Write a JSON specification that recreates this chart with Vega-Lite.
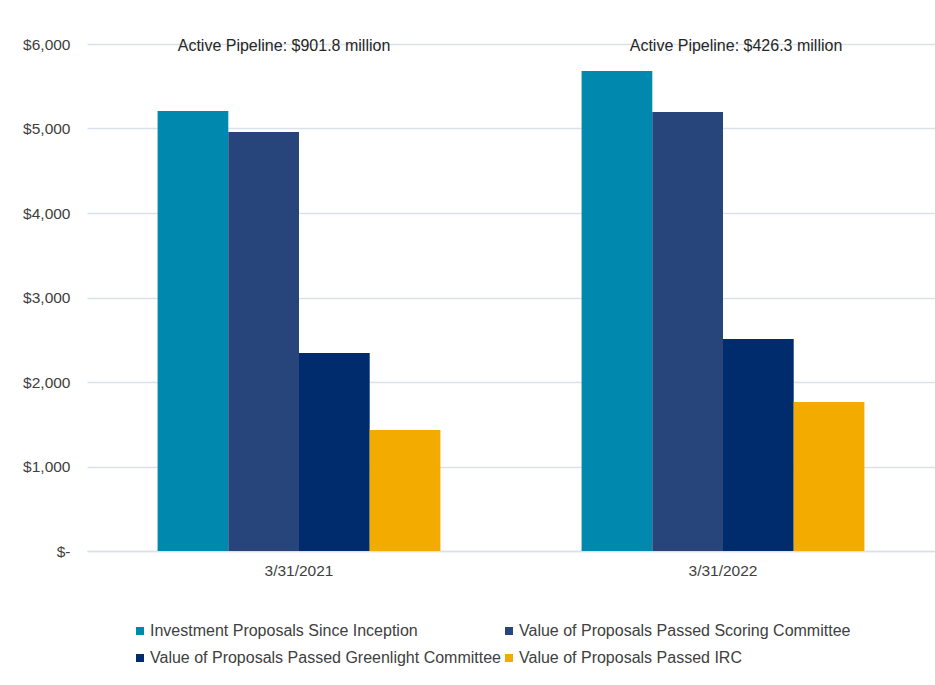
{
  "$schema": "https://vega.github.io/schema/vega-lite/v6.json",
  "width": 848,
  "height": 507,
  "autosize": {"type": "none"},
  "padding": {"left": 87, "top": 44, "right": 0, "bottom": 134},
  "background": "white",
  "config": {
    "font": "Liberation Sans",
    "view": {"stroke": null},
    "axis": {"labelFont": "Liberation Sans", "labelFontSize": 15.5, "labelColor": "#404040"}
  },
  "datasets": {
    "bars": [
      {"date": "3/31/2021", "series": "Investment Proposals Since Inception", "value": 5207},
      {"date": "3/31/2021", "series": "Value of Proposals Passed Scoring Committee", "value": 4959},
      {"date": "3/31/2021", "series": "Value of Proposals Passed Greenlight Committee", "value": 2343},
      {"date": "3/31/2021", "series": "Value of Proposals Passed IRC", "value": 1432},
      {"date": "3/31/2022", "series": "Investment Proposals Since Inception", "value": 5680},
      {"date": "3/31/2022", "series": "Value of Proposals Passed Scoring Committee", "value": 5195},
      {"date": "3/31/2022", "series": "Value of Proposals Passed Greenlight Committee", "value": 2509},
      {"date": "3/31/2022", "series": "Value of Proposals Passed IRC", "value": 1763}
    ],
    "notes": [
      {"date": "3/31/2021", "label": "Active Pipeline: $901.8 million"},
      {"date": "3/31/2022", "label": "Active Pipeline: $426.3 million"}
    ]
  },
  "layer": [
    {
      "data": {"name": "bars"},
      "mark": {"type": "bar"},
      "encoding": {
        "x": {
          "field": "date", "type": "nominal",
          "scale": {"paddingInner": 0.333, "paddingOuter": 0.1665},
          "axis": {"title": null, "labelAngle": 0, "ticks": false, "domainColor": "#D9E1EA", "domainWidth": 1.3, "labelPadding": 12}
        },
        "xOffset": {
          "field": "series", "type": "nominal",
          "sort": ["Investment Proposals Since Inception", "Value of Proposals Passed Scoring Committee", "Value of Proposals Passed Greenlight Committee", "Value of Proposals Passed IRC"],
          "scale": {"paddingInner": 0, "paddingOuter": 0}
        },
        "y": {
          "field": "value", "type": "quantitative",
          "scale": {"domain": [0, 6000], "nice": false},
          "axis": {
            "title": null, "values": [0, 1000, 2000, 3000, 4000, 5000, 6000],
            "domain": false, "ticks": false, "labelPadding": 17,
            "gridColor": "#D9E1EA", "gridWidth": 1.3,
            "labelExpr": "datum.value == 0 ? '$-' : '$' + format(datum.value, ',')"
          }
        },
        "color": {
          "field": "series", "type": "nominal",
          "sort": ["Investment Proposals Since Inception", "Value of Proposals Passed Scoring Committee", "Value of Proposals Passed Greenlight Committee", "Value of Proposals Passed IRC"],
          "scale": {"range": ["#0088AE", "#27457A", "#002B6C", "#F3AB00"]},
          "legend": {
            "title": null, "orient": "none", "legendX": 45, "legendY": 579,
            "columns": 2, "direction": "horizontal",
            "symbolType": "square", "symbolSize": 64, "symbolStrokeWidth": 0,
            "labelFont": "Liberation Sans", "labelFontSize": 16, "labelColor": "#404040",
            "labelLimit": 420, "columnPadding": 0, "rowPadding": 11, "labelOffset": 2
          }
        }
      }
    },
    {
      "data": {"name": "notes"},
      "transform": [{"filter": "datum.date == '3/31/2021'"}],
      "mark": {"type": "text", "fontSize": 16, "color": "#262626", "baseline": "middle", "font": "Liberation Sans", "dx": -15},
      "encoding": {
        "x": {"field": "date", "type": "nominal"},
        "y": {"datum": 5980},
        "text": {"field": "label"}
      }
    },
    {
      "data": {"name": "notes"},
      "transform": [{"filter": "datum.date == '3/31/2022'"}],
      "mark": {"type": "text", "fontSize": 16, "color": "#262626", "baseline": "middle", "font": "Liberation Sans", "dx": 13},
      "encoding": {
        "x": {"field": "date", "type": "nominal"},
        "y": {"datum": 5980},
        "text": {"field": "label"}
      }
    }
  ]
}
